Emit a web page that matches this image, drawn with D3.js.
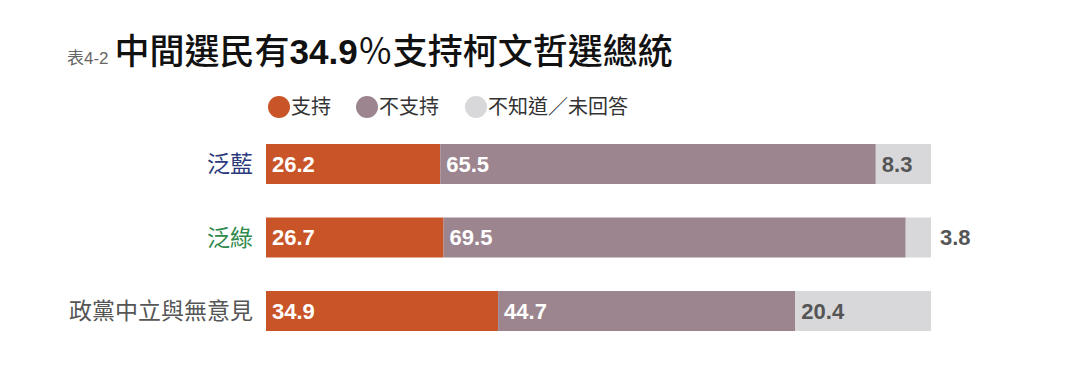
<!DOCTYPE html>
<html>
<head>
<meta charset="utf-8">
<script src="https://cdn.jsdelivr.net/npm/d3@7"></script>
<style>
  html, body { margin: 0; padding: 0; background: #ffffff; }
  svg { display: block; }
</style>
</head>
<body>
<svg id="chart" width="1080" height="380"></svg>
<script>
const categories = ["泛藍", "泛綠", "政黨中立與無意見"];
const seriesNames = ["支持", "不支持", "不知道／未回答"];
const support = [26.2, 26.7, 34.9];
const oppose = [65.5, 69.5, 44.7];
const unknown = [8.3, 3.8, 20.4];
const labelColors = ["#2b3a7c", "#2f8a4c", "#555555"];
const seriesColors = ["#c85428", "#9c858f", "#d8d8da"];
const valueTextColors = ["#ffffff", "#ffffff", "#555555"];

const svg = d3.select("#chart");
const cjk = "'Noto Sans CJK TC', 'Noto Sans CJK SC', sans-serif";
const latin = "'Liberation Sans', Arial, 'Noto Sans CJK TC', sans-serif";

// Title
const title = svg.append("text").attr("x", 67).attr("y", 64).attr("font-family", cjk).attr("fill", "#111");
title.append("tspan").attr("font-size", 17).attr("fill", "#666").attr("font-family", latin).text("表4-2");
title.append("tspan").attr("dx", 6).attr("font-size", 35).attr("font-weight", 500).text("中間選民有");
title.append("tspan").attr("font-size", 35).attr("font-weight", 700).attr("font-family", latin).text("34.9");
title.append("tspan").attr("font-size", 35).attr("font-weight", 400).text("％");
title.append("tspan").attr("font-size", 35).attr("font-weight", 500).text("支持柯文哲選總統");

// Legend
const legendX = [279, 367, 476];
const legend = svg.append("g");
seriesNames.forEach((name, i) => {
  legend.append("circle").attr("cx", legendX[i]).attr("cy", 107).attr("r", 11).attr("fill", seriesColors[i]);
  legend.append("text").attr("x", legendX[i] + 12).attr("y", 107).attr("dy", "0.36em")
    .attr("font-family", cjk).attr("font-size", 20).attr("fill", "#333").text(name);
});

// Scales
const x = d3.scaleLinear().domain([0, 100]).range([266, 931]);
const y = d3.scaleBand().domain(categories).range([127.25, 347.75]).paddingInner(0.456).paddingOuter(0.228);

const rows = categories.map((c, i) => ({ cat: c, vals: [support[i], oppose[i], unknown[i]] }));
const stackData = rows.map(r => {
  let acc = 0;
  return r.vals.map((v, k) => { const s = { cat: r.cat, k, v, x0: acc, x1: acc + v }; acc += v; return s; });
});

const g = svg.append("g");
stackData.forEach(segs => {
  const row = g.append("g");
  row.selectAll("rect").data(segs).join("rect")
    .attr("x", d => x(d.x0)).attr("y", d => y(d.cat))
    .attr("width", d => x(d.x1) - x(d.x0)).attr("height", y.bandwidth())
    .attr("fill", d => seriesColors[d.k]);
  row.selectAll("text").data(segs).join("text")
    .attr("x", d => (x(d.x1) - x(d.x0) < 40) ? x(d.x1) + 9 : x(d.x0) + 6)
    .attr("y", d => y(d.cat) + y.bandwidth() / 2)
    .attr("dy", "0.36em")
    .attr("font-family", latin).attr("font-size", 22).attr("font-weight", 700)
    .attr("fill", d => (x(d.x1) - x(d.x0) < 40) ? "#555555" : valueTextColors[d.k])
    .text(d => d.v.toFixed(1));
});

// Category labels
g.selectAll("text.cat").data(categories).join("text").attr("class", "cat")
  .attr("x", 253).attr("y", d => y(d) + y.bandwidth() / 2).attr("dy", "0.36em")
  .attr("text-anchor", "end").attr("font-family", cjk).attr("font-size", 23)
  .attr("fill", (d, i) => labelColors[i]).text(d => d);
</script>
</body>
</html>
